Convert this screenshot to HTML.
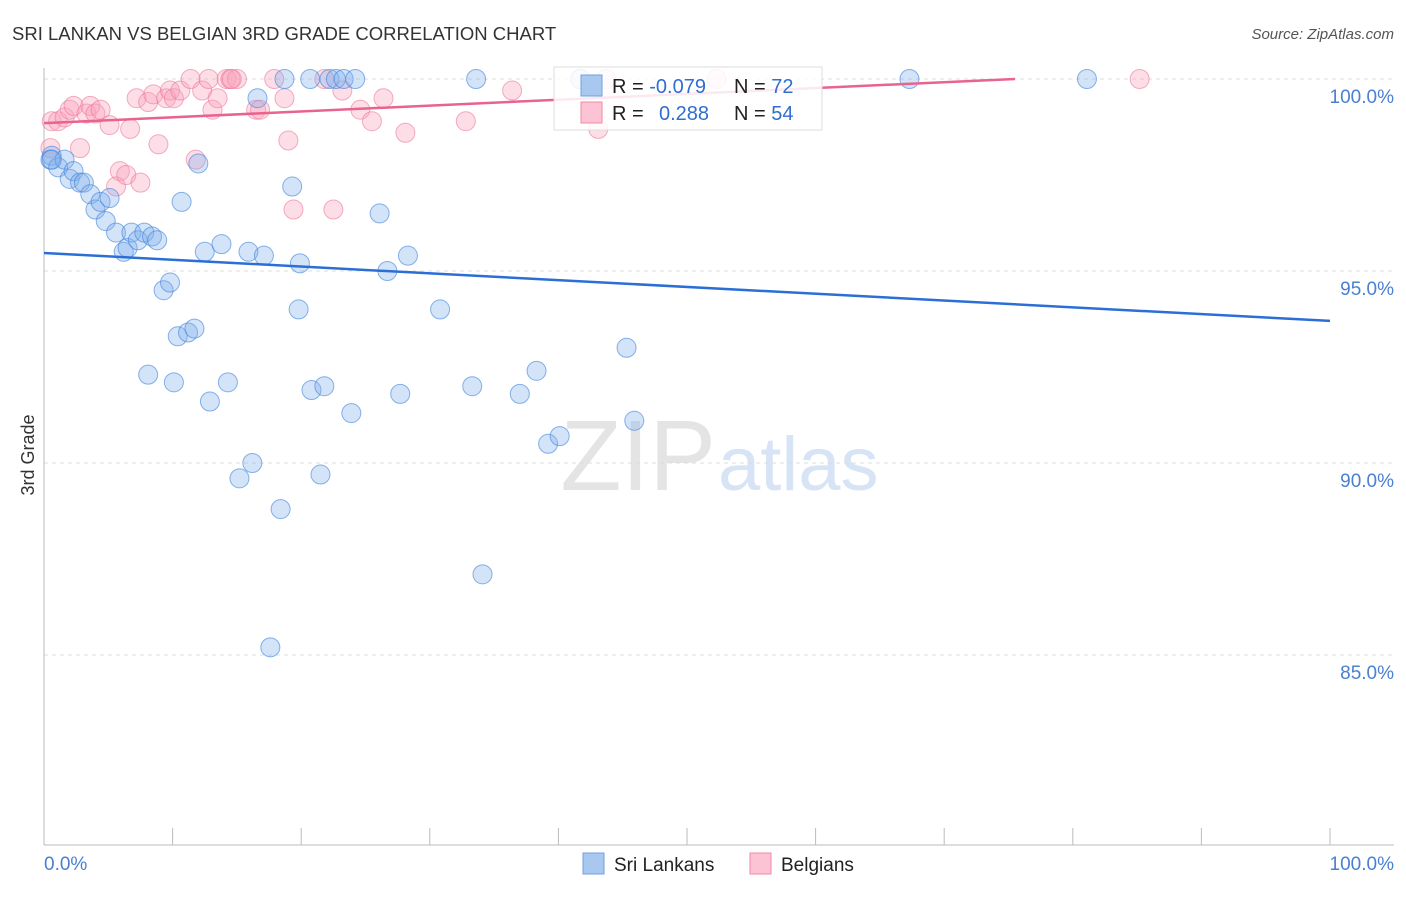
<!DOCTYPE html>
<html><head><meta charset="utf-8"><style>
body{margin:0;background:#fff;font-family:"Liberation Sans",sans-serif;}
svg text{font-family:"Liberation Sans",sans-serif;}
</style></head><body>
<svg id="chart" width="1406" height="892">
<text x="12" y="40" font-size="18.5" fill="#333">SRI LANKAN VS BELGIAN 3RD GRADE CORRELATION CHART</text>
<text x="1394" y="39" font-size="15" fill="#555" font-style="italic" text-anchor="end">Source: ZipAtlas.com</text>
<text x="716" y="490" font-size="100" fill="#e4e4e4" text-anchor="end" font-family="Liberation Serif">ZIP</text>
<text x="718" y="490" font-size="76" fill="#d6e4f5">atlas</text>
<text transform="translate(34,455) rotate(-90)" font-size="18" fill="#333" text-anchor="middle">3rd Grade</text>
<g id="grid"></g><g id="pts"></g><g id="lines"></g>
<g>
<rect x="554" y="67" width="268" height="63" fill="rgba(255,255,255,0.85)" stroke="#ddd"/>
<rect x="581" y="75" width="21" height="21" fill="#a9c8f0" stroke="#6fa0e0"/>
<rect x="581" y="102" width="21" height="21" fill="#fbc3d3" stroke="#f08aaa"/>
<text x="612" y="93" font-size="20" fill="#222">R = <tspan fill="#2f6fd0">-0.079</tspan><tspan x="734">N = </tspan><tspan fill="#2f6fd0">72</tspan></text>
<text x="612" y="120" font-size="20" fill="#222">R = <tspan x="659" fill="#2f6fd0">0.288</tspan><tspan x="734">N = </tspan><tspan fill="#2f6fd0">54</tspan></text>
</g>
<g>
<rect x="583" y="853" width="21" height="21" fill="#a9c8f0" stroke="#6fa0e0"/>
<text x="614" y="871" font-size="19" fill="#222">Sri Lankans</text>
<rect x="750" y="853" width="21" height="21" fill="#fbc3d3" stroke="#f08aaa"/>
<text x="781" y="871" font-size="19" fill="#222">Belgians</text>
</g>
<text x="44" y="870" font-size="19" fill="#4a80d0">0.0%</text>
<text x="1394" y="870" font-size="19" fill="#4a80d0" text-anchor="end">100.0%</text>
</svg>
<script>
const blueX=[0.6,0.5,1.1,1.6,2.0,2.3,2.8,3.1,3.6,4.0,4.4,5.1,4.8,5.6,6.2,6.5,6.8,7.3,7.8,8.4,8.8,9.3,9.8,10.4,11.2,11.7,8.1,10.1,10.7,12.0,12.5,12.9,13.8,14.3,15.2,16.2,15.9,16.6,17.1,17.6,18.4,18.7,19.3,19.9,19.8,20.7,20.8,21.5,21.8,22.2,22.7,23.3,23.9,24.2,26.1,26.7,27.7,28.3,30.8,33.3,33.6,34.1,37.0,38.3,39.2,40.1,41.7,45.3,45.9,67.3,81.1,0.6];
const blueY=[98.0,97.9,97.7,97.9,97.4,97.6,97.3,97.3,97.0,96.6,96.8,96.9,96.3,96.0,95.5,95.6,96.0,95.8,96.0,95.9,95.8,94.5,94.7,93.3,93.4,93.5,92.3,92.1,96.8,97.8,95.5,91.6,95.7,92.1,89.6,90.0,95.5,99.5,95.4,85.2,88.8,100.0,97.2,95.2,94.0,100.0,91.9,89.7,92.0,100.0,100.0,100.0,91.3,100.0,96.5,95.0,91.8,95.4,94.0,92.0,100.0,87.1,91.8,92.4,90.5,90.7,100.0,93.0,91.1,100.0,100.0,97.9];
const pinkX=[0.6,1.1,1.6,2.0,2.3,3.3,3.6,4.0,4.4,5.1,2.8,5.9,5.6,6.4,6.7,7.5,7.2,8.1,8.5,8.9,9.5,9.8,10.1,10.6,11.4,11.8,12.3,12.8,13.1,13.5,14.2,14.5,15.0,16.5,16.8,17.9,18.7,19.0,19.4,21.8,22.5,23.2,24.6,25.5,26.4,28.1,32.8,36.4,43.1,43.7,52.3,85.2,0.5,14.6];
const pinkY=[98.9,98.9,99.0,99.2,99.3,99.1,99.3,99.1,99.2,98.8,98.2,97.6,97.2,97.5,98.7,97.3,99.5,99.4,99.6,98.3,99.5,99.7,99.5,99.7,100.0,97.9,99.7,100.0,99.2,99.5,100.0,100.0,100.0,99.2,99.2,100.0,99.5,98.4,96.6,100.0,96.6,99.7,99.2,98.9,99.5,98.6,98.9,99.7,98.7,100.0,100.0,100.0,98.2,100.0];
const blueLine=[95.47,93.70];
const pinkLine=[98.85,100.0,75.5];
const yTicks=[100,95,90,85];
const yTickLabels=["100.0%","95.0%","90.0%","85.0%"];
const xTicks=[0,10,20,30,40,50,60,70,80,90,100];
const ns="http://www.w3.org/2000/svg";
const X=v=>44+v*12.86, Y=v=>79+(100-v)*38.4;
function mk(tag,attrs,parent){const e=document.createElementNS(ns,tag);for(const k in attrs)e.setAttribute(k,attrs[k]);document.getElementById(parent).appendChild(e);return e;}
yTicks.forEach((t,i)=>{
 const g=mk('line',{x1:44,x2:1394,y1:Y(t),y2:Y(t),stroke:'#ddd','stroke-dasharray':'4,4'},'grid');
 
 
 const l=mk('text',{x:1394,y:Y(t)+24,'font-size':19,fill:'#4a80d0','text-anchor':'end'},'grid');
 l.textContent=yTickLabels[i];
 
 
});
const ax=mk('line',{x1:44,x2:1394,y1:845,y2:845,stroke:'#bbb'},'grid');


const ay=mk('line',{x1:44,x2:44,y1:68,y2:845,stroke:'#bbb'},'grid');


xTicks.forEach(t=>{
 const k=mk('line',{x1:X(t),x2:X(t),y1:828,y2:845,stroke:'#bbb'},'grid');
 
 
});
pinkX.forEach((x,i)=>{
 const c=mk('circle',{cx:X(x),cy:Y(pinkY[i]),r:9.5,fill:'rgba(248,160,185,0.35)',stroke:'rgba(235,120,155,0.6)'},'pts');
 
 
});
blueX.forEach((x,i)=>{
 const c=mk('circle',{cx:X(x),cy:Y(blueY[i]),r:9.5,fill:'rgba(130,175,235,0.35)',stroke:'rgba(60,130,220,0.6)'},'pts');
 
 
});
const bl=mk('line',{x1:X(0),y1:Y(blueLine[0]),x2:X(100),y2:Y(blueLine[1]),stroke:'#2b6fd6','stroke-width':2.5},'lines');


const pl=mk('line',{x1:X(0),y1:Y(pinkLine[0]),x2:X(pinkLine[2]),y2:Y(pinkLine[1]),stroke:'#e8638e','stroke-width':2.5},'lines');


</script>
</body></html>
